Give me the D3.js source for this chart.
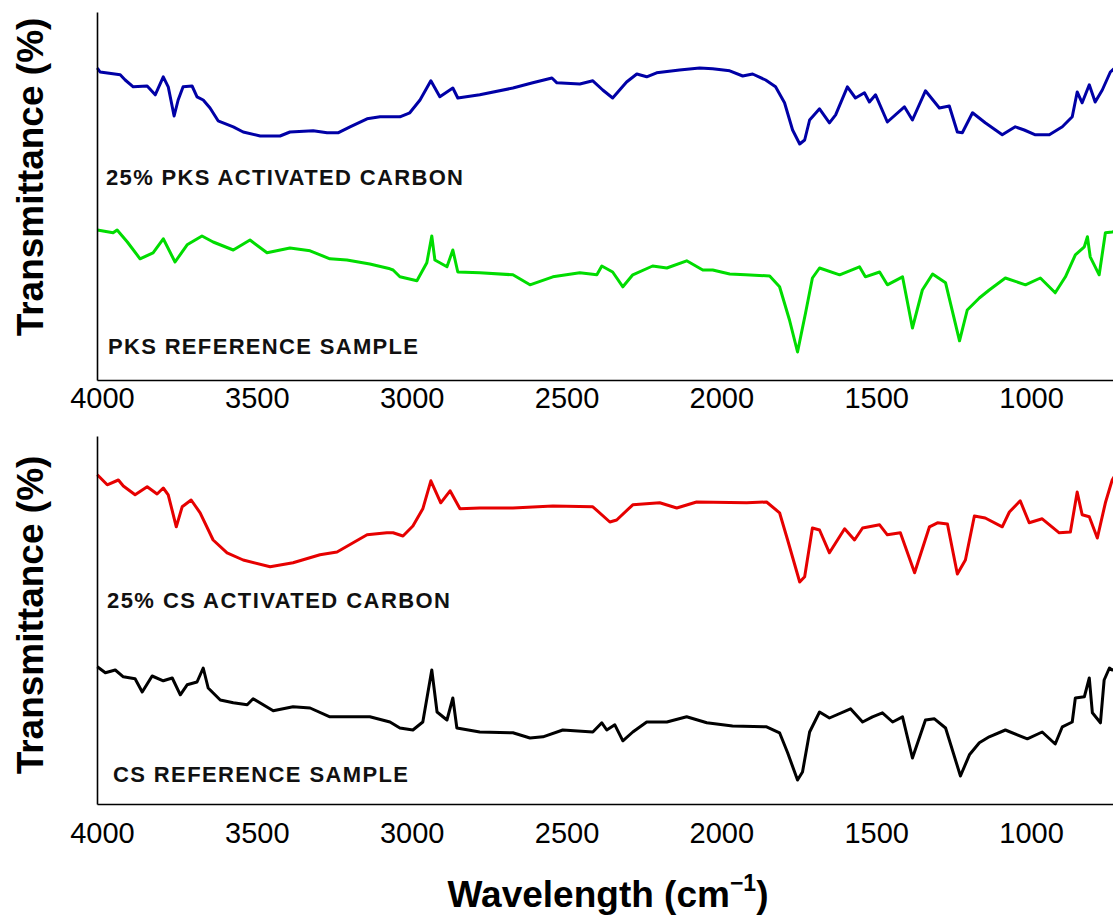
<!DOCTYPE html>
<html>
<head>
<meta charset="utf-8">
<script src="https://cdn.jsdelivr.net/npm/d3@7"></script>
<style>
	body { margin: 0; background: #fff; }
	svg { display: block; overflow: hidden; }
</style>
</head>
<body>
<div id="chart"></div>
<script>
/*Data: [wavenumber (cm-1), transmittance (a.u.)]*/
const xTicks = [4000, 3500, 3000, 2500, 2000, 1500, 1000];

const pksActivated = [[4015,78],[4006,77],[3941,76.3],[3925,75],[3899,73.3],[3854,73.5],[3828,71.3],[3802,75.8],[3786,73.3],[3767,66],[3754,70],[3738,73.3],[3709,73.5],[3693,70.8],[3673,70],[3651,68],[3625,64.8],[3576,63.3],[3544,62],[3489,61],[3425,61],[3393,62],[3318,62.3],[3273,61.8],[3238,61.8],[3199,63.3],[3144,65.3],[3102,65.8],[3038,65.8],[3006,66.8],[2973,70],[2938,74.8],[2909,70.8],[2867,73],[2851,70.5],[2780,71.3],[2673,73],[2609,74.3],[2547,75.5],[2531,74.3],[2457,74],[2415,74.8],[2383,72.5],[2351,70.5],[2306,74.5],[2273,76.5],[2241,75.8],[2209,76.8],[2135,77.5],[2070,78],[2028,77.8],[1973,77.3],[1931,76],[1899,76.5],[1857,75],[1825,73.3],[1796,69.3],[1770,62.5],[1747,59],[1731,60],[1715,65],[1683,67.8],[1651,64.3],[1631,66.3],[1593,73.3],[1567,70.5],[1538,71.8],[1522,69.5],[1502,71.3],[1464,64.5],[1409,68.3],[1383,65],[1341,72.3],[1296,68],[1264,68.5],[1238,62],[1222,61.8],[1189,66.8],[1148,64.3],[1093,61.3],[1051,63.3],[1022,62.5],[986,61.3],[941,61.3],[899,63.3],[867,65.8],[851,72],[835,69.3],[812,73.8],[793,69.5],[770,72.5],[744,77],[715,79]];

const pksReference = [[4015,37.5],[3964,36.8],[3951,37.5],[3918,34.5],[3877,30.3],[3835,31.8],[3802,35.3],[3764,29.5],[3725,33.8],[3677,36],[3641,34.5],[3576,32.5],[3522,35],[3467,31.8],[3393,33],[3328,32.3],[3264,30.3],[3209,30],[3135,29],[3070,27.8],[3060,27.5],[3038,25.8],[2983,24.8],[2951,29.3],[2935,36],[2925,30],[2886,28.3],[2867,32.5],[2851,27],[2780,26.8],[2673,26.3],[2618,23.8],[2544,25.8],[2457,26.8],[2402,26.3],[2386,28.5],[2351,27],[2318,23.3],[2286,26.3],[2222,28.5],[2176,28],[2112,29.8],[2060,27.5],[2028,27.5],[1973,26.5],[1922,26.3],[1844,26],[1812,23.3],[1780,15],[1754,7],[1728,16.8],[1706,25.5],[1683,28],[1618,26.3],[1554,28.3],[1535,25.8],[1489,27],[1464,23.8],[1415,25.8],[1383,13],[1351,22.5],[1318,26.5],[1276,24.3],[1231,9.8],[1206,17.5],[1167,20.5],[1135,22.5],[1083,25.5],[1018,23.8],[970,25.5],[922,21.8],[889,25.8],[857,31.3],[828,33.3],[818,35.8],[809,30.8],[780,26.3],[760,36.8],[738,37],[715,37.5]];

const csActivated = [[4015,82.3],[3983,79.8],[3947,81],[3931,79.5],[3893,77.3],[3854,79.3],[3822,77.5],[3802,79],[3786,77.3],[3760,69.3],[3741,74.3],[3712,76],[3683,72.8],[3641,66],[3596,62.8],[3544,61],[3457,59.3],[3383,60.3],[3296,62.3],[3241,63],[3189,65.3],[3144,67.3],[3080,67.8],[3060,67.8],[3028,67],[2996,69.5],[2964,73.8],[2938,80.8],[2906,75.3],[2876,78.3],[2844,73.8],[2780,74],[2673,74],[2544,74.5],[2415,74.3],[2360,70.5],[2338,71],[2286,74.8],[2199,75.3],[2144,74],[2080,75.5],[1918,75.3],[1854,75.5],[1812,72.8],[1786,66],[1747,55.5],[1731,56.8],[1706,69],[1683,68.5],[1651,62.8],[1602,68.8],[1570,66],[1544,69],[1489,69.8],[1464,67.3],[1422,67.8],[1376,57.8],[1328,69.3],[1302,70.3],[1270,70],[1238,57.5],[1212,61],[1183,72],[1148,71.5],[1093,69.3],[1070,73],[1035,75.8],[1006,70.3],[964,71.3],[909,67.8],[873,68],[851,78],[835,72.3],[812,71.8],[786,66.5],[760,75.3],[738,81],[715,84]];

const csReference = [[4015,34.3],[3989,32.8],[3957,33.5],[3931,31.8],[3893,31.3],[3870,28],[3838,32],[3802,30.8],[3773,31.5],[3747,27.3],[3725,29.8],[3693,30.5],[3673,34],[3657,29],[3618,26],[3576,25.3],[3531,24.8],[3512,26.3],[3447,23.3],[3383,24.3],[3328,24],[3264,21.8],[3209,21.8],[3135,21.8],[3070,20.5],[3038,19],[2996,18.5],[2964,20.5],[2935,33.5],[2918,23],[2886,21],[2867,26.5],[2854,19],[2780,18],[2673,17.8],[2618,16.5],[2576,16.8],[2512,18.5],[2415,18],[2386,20.3],[2370,18.5],[2344,19.8],[2318,15.8],[2286,18],[2241,20.5],[2176,20.5],[2112,21.8],[2047,20.3],[1964,19.5],[1854,19.3],[1812,17.8],[1786,12.8],[1754,6],[1738,8],[1715,18],[1683,23],[1651,21.5],[1583,23.8],[1544,20.5],[1512,21.8],[1480,22.8],[1447,20.5],[1415,21.8],[1383,11.5],[1341,21],[1312,21.3],[1276,19],[1228,7],[1199,12.3],[1167,15.3],[1135,16.8],[1083,18.5],[1012,16.3],[964,18],[922,15],[899,19.3],[867,20.5],[857,26.5],[828,26.8],[812,31.5],[802,22.8],[776,20.3],[764,31],[747,34],[738,33.5],[715,34]];

const sampleNames = ['25% PKS ACTIVATED CARBON', 'PKS REFERENCE SAMPLE', '25% CS ACTIVATED CARBON', 'CS REFERENCE SAMPLE'];
/////////////////////////////////////////////////////////////////////////////

//STYLING
const width = 1113, height = 916;
const FONT = '"Liberation Sans", Arial, Helvetica, sans-serif';

const panels = [
	{
		top: 12, bottom: 380, titleY: 177, tickPad: 7,
		series: [
			{ data: pksActivated, color: '#0000a6', name: sampleNames[0], lx: 106, ly: 185, lw: 357 },
			{ data: pksReference, color: '#00dc00', name: sampleNames[1], lx: 108, ly: 354, lw: 310 }
		]
	},
	{
		top: 436, bottom: 804, titleY: 615, tickPad: 18,
		series: [
			{ data: csActivated, color: '#e60000', name: sampleNames[2], lx: 107, ly: 608, lw: 343 },
			{ data: csReference, color: '#000000', name: sampleNames[3], lx: 113, ly: 782, lw: 295 }
		]
	}
];

const svg = d3.select('#chart').append('svg')
	.attr('width', width)
	.attr('height', height)
	.attr('viewBox', `0 0 ${width} ${height}`)
	.style('font-family', FONT);

// shared wavenumber scale, reversed like an IR spectrum
const x = d3.scaleLinear()
	.domain([4016, 650])
	.range([97, 97 + 3366 * 0.3097]);

panels.forEach(p => {
	const y = d3.scaleLinear()
		.domain([0, 92])
		.range([p.bottom, p.top]);

	const line = d3.line()
		.x(d => x(d[0]))
		.y(d => y(d[1]));

	const g = svg.append('g');

	p.series.forEach(s => {
		g.append('path')
			.datum(s.data)
			.attr('fill', 'none')
			.attr('stroke', s.color)
			.attr('stroke-width', 3)
			.attr('stroke-linejoin', 'round')
			.attr('d', line);

		g.append('text')
			.attr('x', s.lx)
			.attr('y', s.ly)
			.attr('textLength', s.lw)
			.attr('lengthAdjust', 'spacing')
			.style('font-size', '22px')
			.style('font-weight', 'bold')
			.attr('fill', '#111')
			.text(s.name);
	});

	//axes
	g.append('g')
		.attr('transform', `translate(0,${p.bottom})`)
		.call(d3.axisBottom(x).tickValues(xTicks).tickSize(0).tickPadding(p.tickPad).tickFormat(d3.format('d')))
		.call(a => a.select('.domain').attr('stroke-width', 1.6))
		.call(a => a.selectAll('text').attr('fill', '#000'))
		.attr('font-size', 29)
		.attr('font-family', FONT);

	g.append('g')
		.attr('transform', `translate(97,0)`)
		.call(d3.axisLeft(y).tickValues([]).tickSizeOuter(0))
		.call(a => a.select('.domain').attr('stroke-width', 1.6));

	g.append('text')
		.attr('transform', `translate(43,${p.titleY}) rotate(-90)`)
		.attr('text-anchor', 'middle')
		.style('font-size', '37px')
		.style('font-weight', 'bold')
		.attr('fill', '#000')
		.text('Transmittance (%)');
});

const xTitle = svg.append('text')
	.attr('x', 608)
	.attr('y', 907)
	.attr('text-anchor', 'middle')
	.style('font-size', '37px')
	.style('font-weight', 'bold')
	.attr('fill', '#000');
xTitle.append('tspan').text('Wavelength (cm');
xTitle.append('tspan').attr('dy', -16).style('font-size', '23px').text('\u22121');
xTitle.append('tspan').attr('dy', 16).text(')');
</script>
</body>
</html>
